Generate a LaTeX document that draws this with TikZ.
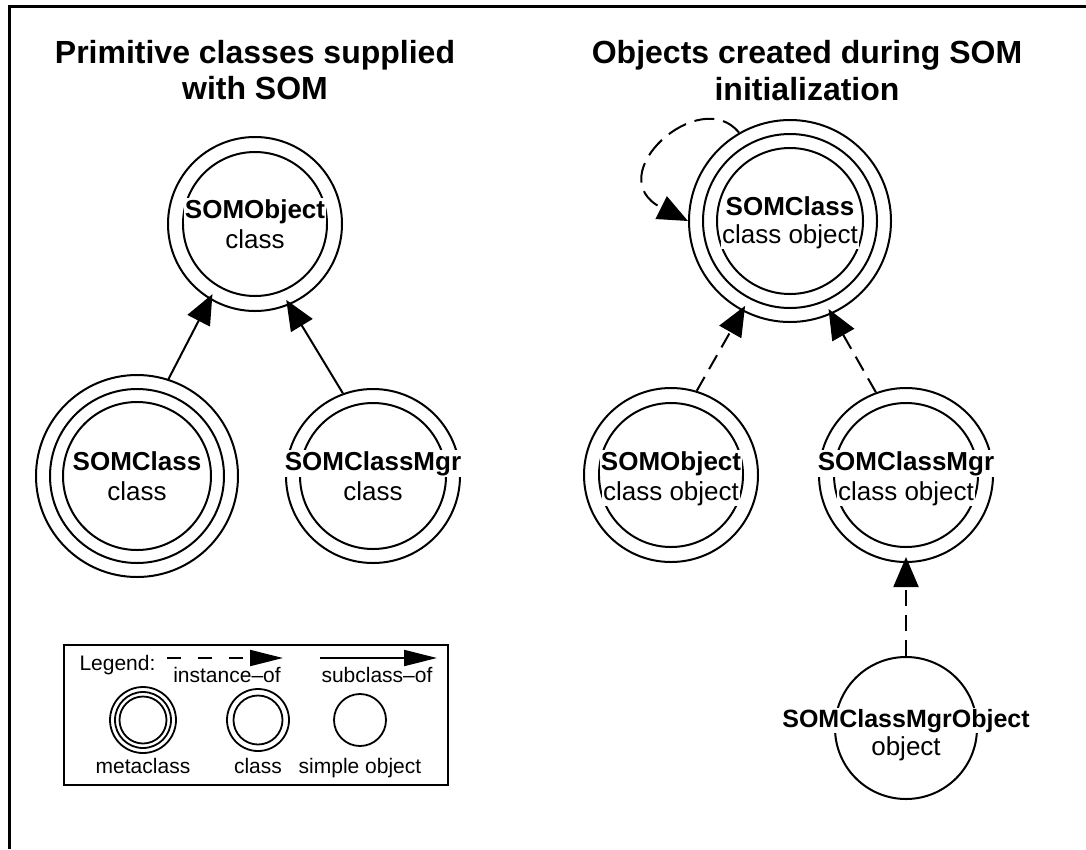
\documentclass[tikz,border=0pt]{standalone}
\usepackage{fontspec}
\setmainfont{Liberation Sans}
\usetikzlibrary{arrows.meta}
\begin{document}
\begin{tikzpicture}[x=1pt,y=-1pt,
  ring/.style={line width=2pt},
  bignode/.style={circle, draw, line width=2pt, inner sep=0pt},
  blab/.style={font=\fontsize{26}{30}\selectfont\bfseries, fill=white, inner sep=1pt, anchor=base},
  rlab/.style={font=\fontsize{26}{30}\selectfont, fill=white, inner sep=1pt, anchor=base},
  subof/.style={line width=2pt, shorten >=-6pt, -{Triangle[length=30pt,width=25pt]}},
  instof/.style={subof, dash pattern=on 16pt off 9pt},
  ttl/.style={font=\fontsize{32}{36}\selectfont\bfseries, anchor=base},
  leg/.style={font=\fontsize{21}{24}\selectfont, anchor=base},
  legring/.style={line width=1.8pt},
  legnode/.style={circle, draw, line width=1.8pt, inner sep=0pt},
  legsub/.style={line width=2pt, -{Triangle[length=33pt,width=16pt]}},
  leginst/.style={legsub, dash pattern=on 14pt off 17pt}
]
\useasboundingbox (0,0) rectangle (1086,849);
% frame (top and left)
\draw[line width=3pt] (9,849) -- (9,6) -- (1086,6);

% titles
\node[ttl] (t1a) at (255,63) {Primitive classes supplied};
\node[ttl] (t1b) at (255,99) {with SOM};
\node[ttl] (t2a) at (807,63) {Objects created during SOM};
\node[ttl] (t2b) at (807,100) {initialization};

% left side circles
\node[bignode, minimum size=174pt] (lo) at (255,224) {};
\draw[ring] (lo.center) circle[radius=72pt];
\node[bignode, minimum size=202pt] (lc) at (137,476) {};
\draw[ring] (lc.center) circle[radius=87pt] (lc.center) circle[radius=74pt];
\node[bignode, minimum size=174pt] (lm) at (373,476) {};
\draw[ring] (lm.center) circle[radius=73pt];

% right side circles
\node[bignode, minimum size=202pt] (rc) at (790,221) {};
\draw[ring] (rc.center) circle[radius=87pt] (rc.center) circle[radius=73pt];
\node[bignode, minimum size=174pt] (ro) at (671,475) {};
\draw[ring] (ro.center) circle[radius=72pt];
\node[bignode, minimum size=174pt] (rm) at (906,475) {};
\draw[ring] (rm.center) circle[radius=72pt];
\node[bignode, minimum size=142pt] (rmo) at (906,728) {};

% labels
\node[blab] (lot) at ([yshift=6pt]lo.center) {SOMObject};
\node[rlab] (los) at ([yshift=-24pt]lo.center) {class};
\node[blab] (lct) at ([yshift=6pt]lc.center) {SOMClass};
\node[rlab] (lcs) at ([yshift=-24pt]lc.center) {class};
\node[blab] (lmt) at ([yshift=6pt]lm.center) {SOMClassMgr};
\node[rlab] (lms) at ([yshift=-24pt]lm.center) {class};
\node[blab] (rct) at ([yshift=6pt]rc.center) {SOMClass};
\node[rlab] (rcs) at ([yshift=-22pt]rc.center) {class object};
\node[blab] (rot) at ([yshift=5pt]ro.center) {SOMObject};
\node[rlab] (ros) at ([yshift=-25pt]ro.center) {class object};
\node[blab] (rmt) at ([yshift=5pt]rm.center) {SOMClassMgr};
\node[rlab] (rms) at ([yshift=-25pt]rm.center) {class object};
\node[blab, font=\fontsize{25}{30}\selectfont\bfseries] (rmot) at ([yshift=1pt]rmo.center) {SOMClassMgrObject};
\node[rlab] (rmos) at ([yshift=-27pt]rmo.center) {object};

% connectors
\draw[subof] (lc.72) -- (lo.239);
\draw[subof] (lm.110) -- (lo.293);
\draw[instof] (ro.73) -- (rc.242);
\draw[instof] (rm.110) -- (rc.294);
\draw[instof] (rmo.90) -- (rm.270);
\draw[instof, shorten >=0pt, dash pattern=on 20pt off 9pt] (rc.120) .. controls (700,84) and (598,176) .. (rc.180);

% legend
\node[draw, line width=2.5pt, minimum width=384pt, minimum height=140pt, inner sep=0pt] (legbox) at (256,715) {};
\node[leg, anchor=base west] (lg) at (76,670) {Legend:};
\coordinate (ia) at (167,658);
\coordinate (ib) at (283,658);
\draw[leginst] (ia) -- (ib);
\node[leg] (li) at (227,682) {instance–of};
\coordinate (sa) at (320,658);
\coordinate (sb) at (437,658);
\draw[legsub] (sa) -- (sb);
\node[leg] (ls) at (377,682) {subclass–of};
\node[legnode, minimum size=66pt] (lmeta) at (143,720) {};
\draw[legring] (lmeta.center) circle[radius=28pt] (lmeta.center) circle[radius=23.5pt];
\node[legnode, minimum size=62pt] (lclass) at (258,720) {};
\draw[legring] (lclass.center) circle[radius=24.5pt];
\node[legnode, minimum size=52pt] (lsimple) at (360,720) {};
\node[leg] (lml) at (143,773) {metaclass};
\node[leg] (lcl) at (258,773) {class};
\node[leg] (lsl) at (360,773) {simple object};
\end{tikzpicture}
\end{document}
